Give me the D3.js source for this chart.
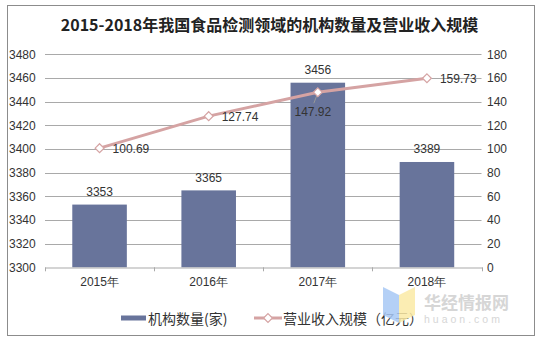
<!DOCTYPE html>
<html><head><meta charset="utf-8">
<script src="https://cdn.jsdelivr.net/npm/d3@7"></script>
<style>
html,body{margin:0;padding:0;background:#fff;}
svg text{font-family:"Liberation Sans",Arial,sans-serif;}
</style></head>
<body>
<svg id="c" width="539" height="341"></svg>
<script>
const title = "2015-2018年我国食品检测领域的机构数量及营业收入规模";
const categories = ["2015年","2016年","2017年","2018年"];
const orgCounts = [3353, 3365, 3456, 3389];
const revenue = [100.69, 127.74, 147.92, 159.73];
const leftTicks = [3300,3320,3340,3360,3380,3400,3420,3440,3460,3480];
const rightTicks = [0,20,40,60,80,100,120,140,160,180];
const seriesNames = ["机构数量(家)", "营业收入规模（亿元）"];

(function(){
const svg = d3.select("#c");
const W = 539;
const pL = 45, pR = 481.5, pT = 54.3, pB = 267.3;
const barColor = "#68749b", lineColor = "#d5a3a3", gridColor = "#a9a9a9";

// frame
svg.append("rect").attr("x",7.5).attr("y",5.5).attr("width",527).attr("height",330)
  .attr("fill","none").attr("stroke","#8c8c8c").attr("stroke-width",1);

// title
svg.append("text").attr("x",W/2).attr("y",31).attr("text-anchor","middle")
  .style("font-family","'Noto Sans CJK SC','DejaVu Serif',serif").style("font-weight","bold")
  .style("font-size","16px").attr("fill","#222").text(title);

const x = d3.scaleBand().domain(categories).range([pL,pR]).paddingInner(0.5).paddingOuter(0.25);
const xb = d3.scaleBand().domain(categories).range([pL,pR]);
const yL = d3.scaleLinear().domain([3300,3480]).range([pB,pT]);
const yR = d3.scaleLinear().domain([0,180]).range([pB,pT]);

// grid
svg.append("g").selectAll("line").data(leftTicks.slice(1)).join("line")
  .attr("x1",pL).attr("x2",pR).attr("y1",d=>Math.round(yL(d))+0.5).attr("y2",d=>Math.round(yL(d))+0.5)
  .attr("stroke",gridColor).attr("stroke-width",1);

// left axis labels
svg.append("g").selectAll("text").data(leftTicks).join("text")
  .attr("x",9).attr("y",d=>yL(d)+4.5).style("font-size","12px").attr("fill","#333").text(d=>d);
// right axis labels
svg.append("g").selectAll("text").data(rightTicks).join("text")
  .attr("x",487).attr("y",d=>yR(d)+4.5).style("font-size","12px").attr("fill","#333").text(d=>d);

// bars
svg.append("g").selectAll("rect").data(orgCounts).join("rect")
  .attr("x",(d,i)=>x(categories[i])).attr("width",x.bandwidth())
  .attr("y",d=>yL(d)).attr("height",d=>pB-yL(d)).attr("fill",barColor);

// x axis
const xa = svg.append("g").attr("transform",`translate(0,${Math.round(pB)+0.5})`)
  .call(d3.axisBottom(xb).tickSize(0).tickPadding(9).tickFormat(()=>""));
xa.select(".domain").attr("stroke",gridColor);
svg.append("g").selectAll("line").data(categories.concat(["end"])).join("line")
  .attr("x1",(d,i)=>Math.round(pL+i*xb.bandwidth())+0.5).attr("x2",(d,i)=>Math.round(pL+i*xb.bandwidth())+0.5)
  .attr("y1",pB).attr("y2",pB+4).attr("stroke",gridColor);
svg.append("g").selectAll("text").data(categories).join("text")
  .attr("x",d=>xb(d)+xb.bandwidth()/2).attr("y",286).attr("text-anchor","middle")
  .style("font-size","12px").attr("fill","#333").text(d=>d);

// bar labels
svg.append("g").selectAll("text").data(orgCounts).join("text")
  .attr("x",(d,i)=>x(categories[i])+x.bandwidth()/2).attr("y",d=>yL(d)-8.5)
  .attr("text-anchor","middle").style("font-size","12px").attr("fill","#333").text(d=>d);

// line
const cx = i => xb(categories[i])+xb.bandwidth()/2;
svg.append("path").datum(revenue)
  .attr("d",d3.line().x((d,i)=>cx(i)).y(d=>yR(d)))
  .attr("fill","none").attr("stroke",lineColor).attr("stroke-width",3);

// leader line for 3rd label
svg.append("line").attr("x1",cx(2)-0.5).attr("y1",yR(revenue[2])+2).attr("x2",cx(2)-4).attr("y2",yR(revenue[2])+11)
  .attr("stroke","#999").attr("stroke-width",1);

const diamond = d3.symbol().type(d3.symbolDiamond2).size(50);
svg.append("g").selectAll("path").data(revenue).join("path")
  .attr("transform",(d,i)=>`translate(${cx(i)},${yR(d)})`).attr("d",diamond)
  .attr("fill","#fff").attr("stroke",lineColor).attr("stroke-width",1.2);

// line labels
svg.append("g").selectAll("text").data(revenue).join("text")
  .attr("x",(d,i)=> i===2 ? cx(i)-5 : cx(i)+13)
  .attr("y",(d,i)=> i===2 ? yR(d)+24 : yR(d)+4.5)
  .attr("text-anchor",(d,i)=> i===2 ? "middle" : "start")
  .style("font-size","12px").attr("fill","#333").text(d=>d.toFixed(2));

// legend
const lg = svg.append("g");
lg.append("rect").attr("x",121).attr("y",315.5).attr("width",25).attr("height",5).attr("fill",barColor);
lg.append("text").attr("x",148).attr("y",323.5).style("font-family","'Noto Sans CJK SC',sans-serif")
  .style("font-size","14px").attr("fill","#333").text(seriesNames[0]);
lg.append("line").attr("x1",254).attr("x2",282).attr("y1",318).attr("y2",318).attr("stroke",lineColor).attr("stroke-width",3);
lg.append("path").attr("transform","translate(268,318)").attr("d",diamond)
  .attr("fill","#fff").attr("stroke",lineColor).attr("stroke-width",1.2);
lg.append("text").attr("x",283).attr("y",323.5).style("font-family","'Noto Sans CJK SC',sans-serif")
  .style("font-size","14px").attr("fill","#333").text(seriesNames[1]);

// watermark
const wm = svg.append("g").attr("opacity",0.85);
wm.append("path").attr("d","M383,287 L399,295 L399,323 L383,315 Z").attr("fill","#a8c8f5");
wm.append("path").attr("d","M399,295 L415,287 L415,315 L399,323 Z").attr("fill","#fbeaa6");
wm.append("text").attr("x",424).attr("y",309).style("font-family","'Noto Sans CJK SC',sans-serif")
  .style("font-weight","bold").style("font-size","17px").attr("fill","#cfcfcf").text("华经情报网");
wm.append("text").attr("x",424).attr("y",323).style("font-size","10.5px").style("letter-spacing","3px")
  .attr("fill","#d0d0d0").text("huaon.com");
})();
</script>
</body></html>
